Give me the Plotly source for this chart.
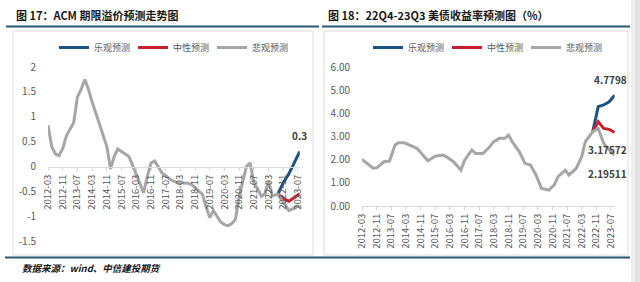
import plotly.graph_objects as go

W, H = 640, 282

# ---------------- data: left chart (ACM term premium) ----------------
acm_hist_dates = ["2012-03", "2012-05", "2012-07", "2012-09", "2012-11", "2013-01", "2013-03", "2013-05",
                  "2013-07", "2013-09", "2013-11", "2014-01", "2014-03", "2014-05", "2014-07", "2014-09",
                  "2014-11", "2015-01", "2015-03", "2015-05", "2015-07", "2015-09", "2015-11", "2016-01",
                  "2016-03", "2016-05", "2016-07", "2016-09", "2016-11", "2017-01", "2017-03", "2017-05",
                  "2017-07", "2017-09", "2017-11", "2018-01", "2018-03", "2018-05", "2018-07", "2018-09",
                  "2018-11", "2019-01", "2019-03", "2019-05", "2019-07", "2019-09", "2019-11", "2020-01",
                  "2020-03", "2020-05", "2020-07", "2020-09", "2020-11", "2021-01", "2021-03", "2021-05",
                  "2021-07", "2021-09", "2021-11", "2022-01", "2022-03", "2022-05", "2022-08"]
acm_hist = [0.83, 0.40, 0.25, 0.22, 0.36, 0.62, 0.75, 0.88,
            1.40, 1.55, 1.75, 1.55, 1.30, 1.08, 0.85, 0.62,
            0.40, -0.05, 0.20, 0.35, 0.30, 0.25, 0.20, 0.02,
            -0.16, -0.35, -0.53, -0.20, 0.07, 0.11, 0.00, -0.13,
            -0.18, -0.25, -0.29, -0.32, -0.33, -0.33, -0.34, -0.36,
            -0.43, -0.50, -0.56, -0.80, -1.03, -0.89, -1.00, -1.12,
            -1.17, -1.19, -1.15, -1.06, -0.60, -0.26, 0.00, 0.07,
            -0.33, -0.45, -0.60, -0.55, -0.29, -0.59, -0.56]
acm_fc_dates = ["2022-08", "2022-11", "2023-02", "2023-05", "2023-08"]
acm_opt = [-0.56, -0.33, -0.15, 0.08, 0.30]
acm_neu = [-0.56, -0.65, -0.70, -0.62, -0.55]
acm_pes = [-0.56, -0.72, -0.89, -0.84, -0.79]

# ---------------- data: right chart (UST yield) ----------------
ust_hist_dates = ["2012-03", "2012-09", "2012-11", "2013-03", "2013-06", "2013-09", "2013-11", "2014-02",
                  "2014-09", "2015-03", "2015-07", "2015-11", "2016-01", "2016-05", "2016-09", "2016-11",
                  "2017-03", "2017-05", "2017-09", "2017-12", "2018-03", "2018-06", "2018-09", "2018-11",
                  "2019-01", "2019-05", "2019-08", "2019-11", "2020-02", "2020-05", "2020-09", "2020-12",
                  "2021-02", "2021-06", "2021-08", "2021-12", "2022-03", "2022-05", "2022-07", "2022-09"]
ust_hist = [2.01, 1.63, 1.65, 1.91, 1.94, 2.63, 2.73, 2.73,
            2.49, 1.95, 2.15, 2.20, 2.13, 1.91, 1.55, 1.98,
            2.42, 2.27, 2.27, 2.49, 2.78, 2.92, 2.92, 3.06,
            2.78, 2.34, 1.84, 1.77, 1.34, 0.76, 0.69, 0.91,
            1.27, 1.55, 1.34, 1.63, 2.13, 2.78, 2.99, 3.21]
ust_fc_dates = ["2022-09", "2022-12", "2023-03", "2023-06", "2023-09"]
ust_opt = [3.21, 4.29, 4.36, 4.50, 4.7798]
ust_neu = [3.21, 3.64, 3.35, 3.31, 3.17572]
ust_pes = [3.21, 3.35, 2.71, 2.42, 2.19511]

x_tick_labels = ["2012-03", "2012-11", "2013-07", "2014-03", "2014-11", "2015-07", "2016-03", "2016-11",
                 "2017-07", "2018-03", "2018-11", "2019-07", "2020-03", "2020-11", "2021-07", "2022-03",
                 "2022-11", "2023-07"]
left_y_ticks = [-1.5, -1, -0.5, 0, 0.5, 1, 1.5, 2]
left_y_labels = ["-1.5", "-1", "-0.5", "0", "0.5", "1", "1.5", "2"]
right_y_ticks = [0, 1, 2, 3, 4, 5, 6]
series_names = ["乐观预测", "中性预测", "悲观预测"]

BLUE = "#1d5282"
RED = "#c8202e"
GREY = "#a6a6a6"
TXT = "#595959"
NAVY = "#2b5675"
FONT = "Noto Sans CJK SC"


def d(s):
    return s + "-01"


def px(x):
    return x / W


def py(y):
    return 1 - y / H


fig = go.Figure()

fig.add_trace(go.Scatter(x=[d(s) for s in acm_fc_dates], y=acm_opt, mode="lines", name=series_names[0],
                         line=dict(color=BLUE, width=3), xaxis="x", yaxis="y", legend="legend"))
fig.add_trace(go.Scatter(x=[d(s) for s in acm_fc_dates], y=acm_neu, mode="lines", name=series_names[1],
                         line=dict(color=RED, width=3), xaxis="x", yaxis="y", legend="legend"))
fig.add_trace(go.Scatter(x=[d(s) for s in acm_hist_dates + acm_fc_dates[1:]], y=acm_hist + acm_pes[1:],
                         mode="lines", name=series_names[2],
                         line=dict(color=GREY, width=3), xaxis="x", yaxis="y", legend="legend"))

fig.add_trace(go.Scatter(x=[d(s) for s in ust_fc_dates], y=ust_opt, mode="lines", name=series_names[0],
                         line=dict(color=BLUE, width=3), xaxis="x2", yaxis="y2", legend="legend2"))
fig.add_trace(go.Scatter(x=[d(s) for s in ust_fc_dates], y=ust_neu, mode="lines", name=series_names[1],
                         line=dict(color=RED, width=3), xaxis="x2", yaxis="y2", legend="legend2"))
fig.add_trace(go.Scatter(x=[d(s) for s in ust_hist_dates + ust_fc_dates[1:]], y=ust_hist + ust_pes[1:],
                         mode="lines", name=series_names[2],
                         line=dict(color=GREY, width=3), xaxis="x2", yaxis="y2", legend="legend2"))

tickvals = [d(s) for s in x_tick_labels]
common_x = dict(type="date", tickmode="array", tickvals=tickvals, ticktext=x_tick_labels, tickangle=-90,
                tickfont=dict(family=FONT, size=9.5, color=TXT), showline=True, linecolor="#d9d9d9",
                linewidth=1, ticks="outside", ticklen=3, tickcolor="#d9d9d9", showgrid=False, zeroline=False,
                automargin=False)

legend_common = dict(orientation="h", xanchor="left", yanchor="top",
                     font=dict(family=FONT, size=9, color=TXT), entrywidth=34, entrywidthmode="pixels",
                     bgcolor="rgba(0,0,0,0)", itemclick=False)

fig.update_layout(
    template="none",
    width=W, height=H, margin=dict(l=0, r=0, t=0, b=0, autoexpand=False),
    paper_bgcolor="white", plot_bgcolor="rgba(0,0,0,0)",
    font=dict(family=FONT, color=TXT),
    xaxis=dict(common_x, domain=[px(48), px(299.8)], range=[d("2012-03"), d("2023-08")],
               anchor="free", position=py(167)),
    yaxis=dict(domain=[py(241), py(67)], range=[-1.5, 2], tickmode="array", tickvals=left_y_ticks,
               ticktext=left_y_labels, showgrid=False, zeroline=False, showline=False,
               ticks="outside", ticklen=9, tickcolor="rgba(0,0,0,0)", automargin=False,
               tickfont=dict(family=FONT, size=10, color=TXT), anchor="x"),
    xaxis2=dict(common_x, domain=[px(362), px(614.7)], range=[d("2012-03"), d("2023-09")], anchor="y2"),
    yaxis2=dict(domain=[py(206), py(67)], range=[0, 6], tickmode="array", tickvals=right_y_ticks,
                tickformat=".2f", showgrid=False, zeroline=False, showline=False,
                ticks="outside", ticklen=9, tickcolor="rgba(0,0,0,0)", automargin=False,
                tickfont=dict(family=FONT, size=10, color=TXT), anchor="x2"),
    legend=dict(legend_common, x=px(54), y=py(33)),
    legend2=dict(legend_common, x=px(368), y=py(33)),
    showlegend=True,
)

shapes = []
shapes.append(dict(type="rect", xref="paper", yref="paper", x0=px(631), x1=px(640), y0=0, y1=1,
                   fillcolor="#eeeeee", line=dict(width=0), layer="below"))
shapes.append(dict(type="rect", xref="paper", yref="paper", x0=px(635), x1=px(640), y0=0, y1=1,
                   fillcolor="#e2e2e2", line=dict(width=0), layer="below"))
for x0, x1 in [(13, 313), (324, 628)]:
    shapes.append(dict(type="rect", xref="paper", yref="paper", x0=px(x0), x1=px(x1), y0=py(255), y1=py(31),
                       line=dict(color="#dcdcdc", width=1), fillcolor="rgba(0,0,0,0)", layer="below"))
for x0, x1, yy in [(6, 319, 26.5), (322, 630, 26.5), (5, 320, 257.5), (320, 630, 257.5)]:
    shapes.append(dict(type="line", xref="paper", yref="paper", x0=px(x0), x1=px(x1), y0=py(yy), y1=py(yy),
                       line=dict(color=NAVY, width=2)))
fig.update_layout(shapes=shapes)

ann = []
ann.append(dict(text="<b>图 17：ACM 期限溢价预测走势图</b>", x=px(14), y=py(15), xref="paper", yref="paper",
                xanchor="left", yanchor="middle", showarrow=False,
                font=dict(family=FONT, size=11, color="#1a1a1a")))
ann.append(dict(text="<b>图 18：22Q4-23Q3 美债收益率预测图（%）</b>", x=px(326), y=py(15), xref="paper",
                yref="paper", xanchor="left", yanchor="middle", showarrow=False,
                font=dict(family=FONT, size=11, color="#1a1a1a")))
ann.append(dict(text="<b><i>数据来源：wind、中信建投期货</i></b>", x=px(20), y=py(268), xref="paper", yref="paper",
                xanchor="left", yanchor="middle", showarrow=False,
                font=dict(family=FONT, size=9.5, color="#1a1a1a")))
ann.append(dict(text="<b>%s</b>" % "0.3", x=d(acm_fc_dates[-1]), y=acm_opt[-1], xref="x", yref="y",
                xanchor="center", yanchor="bottom", yshift=7, showarrow=False,
                font=dict(family=FONT, size=10, color="#404040")))
ann.append(dict(text="<b>%s</b>" % ust_opt[-1], x=d(ust_fc_dates[-1]), y=ust_opt[-1], xref="x2", yref="y2",
                xanchor="center", yanchor="bottom", yshift=6, xshift=-4, showarrow=False,
                font=dict(family=FONT, size=10, color="#404040")))
ann.append(dict(text="<b>%s</b>" % ust_neu[-1], x=d(ust_fc_dates[-1]), y=ust_neu[-1], xref="x2", yref="y2",
                xanchor="center", yanchor="top", yshift=-8, xshift=-7, showarrow=False,
                font=dict(family=FONT, size=10, color="#404040")))
ann.append(dict(text="<b>%s</b>" % ust_pes[-1], x=d(ust_fc_dates[-1]), y=ust_pes[-1], xref="x2", yref="y2",
                xanchor="center", yanchor="top", yshift=-9, xshift=-7, showarrow=False,
                font=dict(family=FONT, size=10, color="#404040")))
fig.update_layout(annotations=ann)

fig.write_html("out.html")
